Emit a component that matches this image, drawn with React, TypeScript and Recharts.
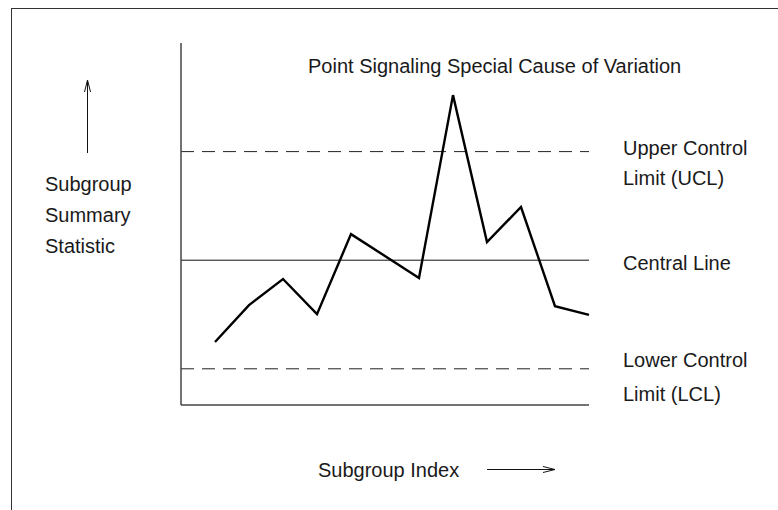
import React from 'react'
import { LineChart, Line, XAxis, YAxis, ReferenceLine } from 'recharts'

// subgroup summary statistic per subgroup index (index 6 has no plotted vertex)
const subgroupIndex = [1, 2, 3, 4, 5, 7, 8, 9, 10, 11, 12]
const statistic = [17.4, 27.6, 34.8, 25.1, 47.2, 35.1, 85.6, 45.0, 54.7, 27.3, 24.9]

const upperControlLimit = 70
const centralLineValue = 40
const lowerControlLimit = 10

const xDomain = [0, 12]
const yDomain = [0, 100]

const data = subgroupIndex.map((idx, i) => ({ idx, value: statistic[i] }))

const FONT = '"Liberation Sans", Arial, sans-serif'
const TEXT_COLOR = '#1a1a1a'

function SideLabel(props: any) {
  const { viewBox, lines, offsets } = props
  if (!viewBox) return null
  const x = viewBox.x + viewBox.width + 34
  return (
    <g>
      {lines.map((t: string, i: number) => (
        <text key={t} x={x} y={viewBox.y + offsets[i]} fontFamily={FONT} fontSize={20} fill={TEXT_COLOR}>
          {t}
        </text>
      ))}
    </g>
  )
}

export default function App() {
  return (
    <div style={{ position: 'absolute', left: 0, top: 0, width: 778, height: 510, background: '#fff' }}>
      <svg width={778} height={510} style={{ position: 'absolute', left: 0, top: 0 }}>
        <rect x={11.5} y={8.5} width={800} height={600} fill="none" stroke="#333" strokeWidth={1} />
        <text x={308} y={73} fontFamily={FONT} fontSize={20} fill={TEXT_COLOR}>
          Point Signaling Special Cause of Variation
        </text>
        {/* y direction arrow */}
        <line x1={87.5} y1={153} x2={87.5} y2={81} stroke="#111" strokeWidth={1} />
        <path d="M84.5,92 L87.5,80 L90.5,92" fill="none" stroke="#111" strokeWidth={1} />
        <text fontFamily={FONT} fontSize={20} fill={TEXT_COLOR}>
          <tspan x={45} y={191}>Subgroup</tspan>
          <tspan x={45} y={222}>Summary</tspan>
          <tspan x={45} y={253}>Statistic</tspan>
        </text>
        <text x={318} y={477} fontFamily={FONT} fontSize={20} fill={TEXT_COLOR}>
          Subgroup Index
        </text>
        {/* x direction arrow */}
        <line x1={487} y1={469.5} x2={554} y2={469.5} stroke="#111" strokeWidth={1} />
        <path d="M543,466.5 L555,469.5 L543,472.5" fill="none" stroke="#111" strokeWidth={1} />
      </svg>
      <div style={{ position: 'absolute', left: 0, top: 0 }}>
        <LineChart
          width={778}
          height={510}
          data={data}
          margin={{ top: 43, right: 189, bottom: 105, left: 181 }}
        >
          <XAxis dataKey="idx" type="number" domain={xDomain} hide height={0} />
          <YAxis type="number" domain={yDomain} hide width={0} />
          <ReferenceLine
            y={upperControlLimit}
            stroke="#222"
            strokeWidth={1}
            strokeDasharray="13 8"
            label={<SideLabel lines={['Upper Control', 'Limit (UCL)']} offsets={[3, 33]} />}
          />
          <ReferenceLine
            y={centralLineValue}
            stroke="#111"
            strokeWidth={1}
            label={<SideLabel lines={['Central Line']} offsets={[10]} />}
          />
          <ReferenceLine
            y={lowerControlLimit}
            stroke="#222"
            strokeWidth={1}
            strokeDasharray="13 8"
            label={<SideLabel lines={['Lower Control', 'Limit (LCL)']} offsets={[-2, 32]} />}
          />
          <ReferenceLine x={xDomain[0]} stroke="#444" strokeWidth={1.5} />
          <ReferenceLine y={yDomain[0]} stroke="#444" strokeWidth={1.5} />
          <Line
            type="linear"
            dataKey="value"
            stroke="#000"
            strokeWidth={2.4}
            dot={false}
            isAnimationActive={false}
          />
        </LineChart>
      </div>
    </div>
  )
}
